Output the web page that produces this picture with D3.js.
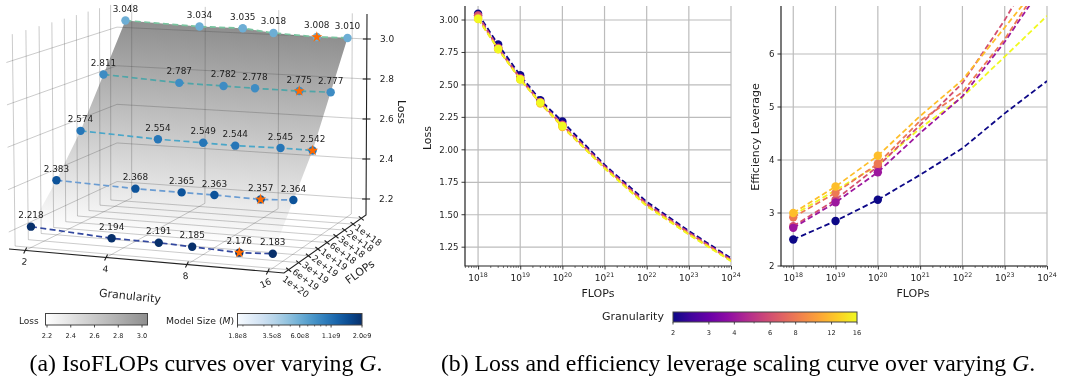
<!DOCTYPE html>
<html><head><meta charset="utf-8">
<script src="https://cdn.jsdelivr.net/npm/d3@7"></script>
<style>
html,body{margin:0;padding:0;background:#fff}
svg{display:block;filter:blur(0.3px)}
text{font-family:"DejaVu Sans",sans-serif;fill:#1c1c1c}
.cap{font-family:"Liberation Serif",serif;font-size:23.8px;fill:#000}
</style></head><body>
<script>
// ---------- data ----------
const granularity = [2, 4, 6, 8, 12, 16];
const flopsLabels = ["1e+18","2e+18","3e+18","6e+18","1e+19","2e+19","3e+19","6e+19","1e+20"];
const rowFlops = ["1e+18","3e+18","1e+19","3e+19","1e+20"];
const lossRow1 = [3.048,3.034,3.035,3.018,3.008,3.010];
const lossRow2 = [2.811,2.787,2.782,2.778,2.775,2.777];
const lossRow3 = [2.574,2.554,2.549,2.544,2.545,2.542];
const lossRow4 = [2.383,2.368,2.365,2.363,2.357,2.364];
const lossRow5 = [2.218,2.194,2.191,2.185,2.176,2.183];
const modelSizes = [6e8, 8.5e8, 1.05e9, 1.45e9, 2e9];
const lossTicks = [2.2,2.4,2.6,2.8,3.0];
const gTicks3d = [2,4,8,16];

const flopsExp = [18, 18.477, 19, 19.477, 20, 21, 22, 23, 24];
const tailG2  = [1.885,1.600,1.375,1.165];
const tailG4  = [1.875,1.585,1.365,1.155];
const tailG6  = [1.870,1.580,1.360,1.150];
const tailG8  = [1.865,1.575,1.355,1.148];
const tailG12 = [1.860,1.570,1.350,1.145];
const tailG16 = [1.858,1.566,1.346,1.142];

const levExp = [18, 19, 20, 21, 22, 23, 24];
const levG2  = [2.50,2.85,3.25,3.72,4.22,4.88,5.49];
const levG4  = [2.72,3.20,3.77,4.51,5.20,6.23,7.40];
const levG6  = [2.75,3.25,3.88,4.66,5.45,6.64,8.00];
const levG8  = [2.92,3.38,3.93,4.74,5.28,6.28,7.50];
const levG12 = [3.00,3.50,4.08,4.83,5.51,6.50,7.50];
const levG16 = [2.96,3.43,3.90,4.60,5.19,5.95,6.72];
const levDrawOrder = [16,6,4,8,12,2];

const lossCbTicks = [2.2,2.4,2.6,2.8,3.0];
const sizeCbTicks = [1.8e8,3.5e8,6e8,1.1e9,2e9];
const sizeCbLabels = ["1.8e8","3.5e8","6.0e8","1.1e9","2.0e9"];
const sizeCbMinor = [2e8,3e8,4e8,5e8,7e8,8e8,9e8,1e9];
const gCbTicks = [2,3,4,6,8,12,16];
const gCbMinor = [5,7,9,10,14];

const lossRows = [lossRow1,lossRow2,lossRow3,lossRow4,lossRow5];
const tails = [tailG2,tailG4,tailG6,tailG8,tailG12,tailG16];
const levs = [levG2,levG4,levG6,levG8,levG12,levG16];

// ---------- page ----------
const svg = d3.select("body").append("svg").attr("width",1067).attr("height",381);
const defs = svg.append("defs");
const FONT_TXT = 8.9, FONT_TITLE = 11;

// ---------- 3D box: scales to unit cube, then trilinear projection ----------
const sU = d3.scaleLog().base(2).domain([Math.pow(2,0.8),Math.pow(2,4.2)]).range([0,1]);
const sVraw = d3.scalePoint().domain(flopsLabels).range([0.065,0.95]);
const sV = f=>{const b=sVraw(f);return b/(b+(1-b)*1.14);};
const sW = d3.scaleLinear().domain([2.12,3.125]).range([0,1]);
const boxBottom = {D:[117,197],C:[366,215],A:[9,249],B:[284,273]};
const boxTop    = {D:[117,3],C:[367,14],A:[6,36],B:[288,38]};
function unit(a,b,c){
  const mix=(p,q,t)=>[p[0]+(q[0]-p[0])*t,p[1]+(q[1]-p[1])*t];
  const f=o=>mix(mix(o.D,o.C,a),mix(o.A,o.B,a),b);
  return mix(f(boxBottom),f(boxTop),c);
}
const proj=(g,fl,w)=>unit(sU(g),sV(fl),sW(w));
const line3=d3.line();

const g3=svg.append("g");

// surface
const n0=proj(2,rowFlops[0],lossRow1[0]), n1=proj(16,rowFlops[0],lossRow1[5]);
const nl=Math.hypot(n1[0]-n0[0],n1[1]-n0[1]);
const nrm=[-(n1[1]-n0[1])/nl,(n1[0]-n0[0])/nl];
const greyOf=d3.scaleLinear().domain([2.2,3.05]).range(["#ffffff","#8f8f8f"]);
const gradLen=215;
const surf=defs.append("linearGradient").attr("id","surf").attr("gradientUnits","userSpaceOnUse")
  .attr("x1",n0[0]).attr("y1",n0[1])
  .attr("x2",n0[0]+nrm[0]*gradLen).attr("y2",n0[1]+nrm[1]*gradLen);
d3.range(0,1.001,0.25).forEach(t=>{
  surf.append("stop").attr("offset",t).attr("stop-color",greyOf(3.05-(3.05-2.2)*t));
});
const outline=[...granularity.map((g,i)=>proj(g,rowFlops[0],lossRow1[i])),
  ...rowFlops.slice(1).map((f,r)=>proj(16,f,lossRows[r+1][5])),
  ...granularity.slice(0,5).reverse().map((g)=>proj(g,rowFlops[4],lossRow5[granularity.indexOf(g)])),
  ...rowFlops.slice(1,4).reverse().map(f=>proj(2,f,lossRows[rowFlops.indexOf(f)][0]))];
g3.append("path").attr("d",line3(outline)+"Z").attr("fill","url(#surf)");

// grid
const gridStyle=s=>s.attr("fill","none").attr("stroke","rgba(70,70,70,0.28)").attr("stroke-width",1);
const seg=(p,q)=>g3.append("path").attr("d",line3([p,q])).call(gridStyle);
lossTicks.forEach(w=>{
  const c=sW(w);
  seg(unit(0,0,c),unit(1,0,c)); seg(unit(0,0,c),unit(0,1,c));
});
gTicks3d.forEach(g=>{
  const a=sU(g);
  seg(unit(a,0,0),unit(a,0,1)); seg(unit(a,0,0),unit(a,1,0));
});
flopsLabels.forEach(f=>{
  const b=sV(f);
  seg(unit(0,b,0),unit(0,b,1)); seg(unit(0,b,0),unit(1,b,0));
});

// axes
const axStyle=s=>s.attr("fill","none").attr("stroke","#222").attr("stroke-width",1.1);
g3.append("path").attr("d",line3([unit(0,1,0),unit(1,1,0),unit(1,0,0),unit(1,0,1)])).call(axStyle);
lossTicks.forEach(w=>{
  const p=unit(1,0,sW(w));
  g3.append("path").attr("d",line3([[p[0]-4,p[1]],[p[0]+4,p[1]]])).call(axStyle);
  g3.append("text").attr("x",p[0]+13).attr("y",p[1]+3.2).attr("font-size",9).text(w.toFixed(1));
});
const gLabelRot=d3.scaleLinear().domain([1,2,3,4]).range([6,6,-5,-25]);
gTicks3d.forEach(g=>{
  const p=unit(sU(g),1,0);
  g3.append("path").attr("d",line3([[p[0]+1.5,p[1]-3],[p[0]-1.5,p[1]+3]])).call(axStyle);
  g3.append("text").attr("text-anchor","middle").attr("font-size",9)
    .attr("transform",`translate(${p[0]-1},${p[1]+14.5}) rotate(${gLabelRot(Math.log2(g))})`).text(g);
});
flopsLabels.forEach(f=>{
  const p=unit(1,sV(f),0);
  g3.append("path").attr("d",line3([[p[0]-2.5,p[1]-2],[p[0]+2.5,p[1]+2]])).call(axStyle);
  g3.append("text").attr("text-anchor","middle").attr("font-size",9)
    .attr("transform",`translate(${p[0]+7},${p[1]+17}) rotate(36)`).attr("dy","0.33em").text(f);
});
g3.append("text").attr("text-anchor","middle").attr("font-size",FONT_TITLE)
  .attr("transform","translate(130,296) rotate(6)").attr("dy","0.33em").text("Granularity");
g3.append("text").attr("text-anchor","middle").attr("font-size",FONT_TITLE)
  .attr("transform","translate(360,272) rotate(-36)").attr("dy","0.33em").text("FLOPs");
g3.append("text").attr("text-anchor","middle").attr("font-size",FONT_TITLE)
  .attr("transform","translate(402,112) rotate(90)").attr("dy","0.33em").text("Loss");

// series
const sizeNorm=d3.scaleLog().domain([1.8e8,2e9]).range([0,1]);
const sizeColor=v=>d3.interpolateBlues(sizeNorm(v));
const rowLineColors=["#79c49f","#4fa5a8","#4aa6c8","#6a9cd2","#33489f"];
const star=d3.symbol().type(d3.symbolStar).size(38);
lossRows.forEach((vals,r)=>{
  const pts=granularity.map((g,i)=>proj(g,rowFlops[r],vals[i]));
  g3.append("path").attr("d",line3(pts)).attr("fill","none").attr("stroke",rowLineColors[r])
    .attr("stroke-width",1.7).attr("stroke-dasharray","6 3.4");
  g3.selectAll(null).data(pts).join("circle")
    .attr("cx",d=>d[0]).attr("cy",d=>d[1]).attr("r",4.2)
    .attr("fill",sizeColor(modelSizes[r]));
  const bi=d3.minIndex(vals);
  g3.append("path").attr("d",star).attr("fill","#ff6a00")
    .attr("transform",`translate(${pts[bi][0]},${pts[bi][1]})`);
  g3.selectAll(null).data(pts).join("text")
    .attr("x",d=>d[0]).attr("y",d=>d[1]-8.5).attr("text-anchor","middle").attr("font-size",FONT_TXT)
    .text((d,i)=>vals[i].toFixed(3));
});

// ---------- colour bars ----------
function colorbar(id,x0,x1,y0,y1,color,scale,ticks,labels,minor,fs){
  const gr=defs.append("linearGradient").attr("id",id);
  d3.range(0,1.0001,0.1).forEach(t=>gr.append("stop").attr("offset",t).attr("stop-color",color(t)));
  const g=svg.append("g");
  g.append("rect").attr("x",x0).attr("y",y0).attr("width",x1-x0).attr("height",y1-y0)
    .attr("fill",`url(#${id})`).attr("stroke","#444").attr("stroke-width",1);
  ticks.forEach((t,i)=>{
    const x=scale(t);
    g.append("line").attr("x1",x).attr("x2",x).attr("y1",y1).attr("y2",y1+2.5).attr("stroke","#222").attr("stroke-width",.8);
    g.append("text").attr("x",x).attr("y",y1+12.5).attr("text-anchor","middle").attr("font-size",fs).text(labels[i]);
  });
  minor.forEach(t=>{
    const x=scale(t);
    g.append("line").attr("x1",x).attr("x2",x).attr("y1",y1).attr("y2",y1+1.5).attr("stroke","#222").attr("stroke-width",.6);
  });
}
const lossCbScale=d3.scaleLinear().domain([2.2,3.0]).range([47,142]);
colorbar("cbLoss",45.5,147.5,313.5,325,d3.interpolateRgb("#ffffff","#8f8f8f"),lossCbScale,lossCbTicks,lossCbTicks.map(d=>d.toFixed(1)),[],6.6);
const sizeCbScale=d3.scaleLog().domain([1.8e8,2e9]).range([237.5,362]);
colorbar("cbSize",237.5,362,313.5,325,d3.interpolateBlues,sizeCbScale,sizeCbTicks,sizeCbLabels,sizeCbMinor,6.6);
const gCbScale=d3.scaleLog().base(2).domain([2,16]).range([0,1]);
const gCbPx=d3.scaleLog().base(2).domain([2,16]).range([673,857]);
colorbar("cbG",673,857,312,322,d3.interpolatePlasma,gCbPx,gCbTicks,gCbTicks.map(String),gCbMinor,6.6);
svg.append("text").attr("x",19).attr("y",324).attr("font-size",9).text("Loss");
const ms=svg.append("text").attr("x",166).attr("y",324).attr("font-size",9.3);
ms.append("tspan").text("Model Size (");
ms.append("tspan").attr("font-style","italic").text("M");
ms.append("tspan").text(")");
svg.append("text").attr("x",602).attr("y",319.5).attr("font-size",FONT_TITLE).text("Granularity");

// ---------- 2D charts ----------
const gColor=g=>d3.interpolatePlasma(gCbScale(g));
function logXAxis(g,x,yBase){
  const ax=d3.axisBottom(x).tickValues(d3.range(18,25).map(e=>Math.pow(10,e))).tickFormat("").tickSize(3.5);
  const a=g.append("g").attr("transform",`translate(0,${yBase})`).call(ax);
  a.select(".domain").remove();
  a.selectAll("line").attr("stroke","#222").attr("stroke-width",.9);
  d3.range(18,25).forEach(e=>{
    const t=g.append("text").attr("x",x(Math.pow(10,e))).attr("y",yBase+14.5).attr("text-anchor","middle").attr("font-size",9);
    t.append("tspan").text("10");
    t.append("tspan").attr("font-size",6.3).attr("dy",-3.4).text(e);
  });
  const minor=[];
  d3.range(17,24).forEach(e=>d3.range(2,10).forEach(m=>{const v=m*Math.pow(10,e); if(v>=x.domain()[0]&&v<=x.domain()[1])minor.push(v);}));
  g.selectAll(null).data(minor).join("line").attr("x1",d=>x(d)).attr("x2",d=>x(d))
    .attr("y1",yBase).attr("y2",yBase+2).attr("stroke","#222").attr("stroke-width",.6);
}
function chart2d(xr,yDomain,yr,yTicks,yFmt,yTitle,yTitleX,xTitleX,yTitleY){
  const g=svg.append("g");
  const x=d3.scaleLog().domain(xr.domain).range(xr.range);
  const y=d3.scaleLinear().domain(yDomain).range(yr);
  const grid=s=>s.attr("stroke","#bcbcbc").attr("stroke-width",1.2);
  d3.range(18,25).forEach(e=>g.append("line").attr("x1",x(Math.pow(10,e))).attr("x2",x(Math.pow(10,e))).attr("y1",yr[0]).attr("y2",yr[1]).call(grid));
  yTicks.forEach(t=>g.append("line").attr("x1",xr.range[0]).attr("x2",xr.range[1]).attr("y1",y(t)).attr("y2",y(t)).call(grid));
  const content=g.append("g");
  g.append("path").attr("d",line3([[xr.range[0],yr[1]],[xr.range[0],yr[0]],[xr.range[1],yr[0]]])).attr("fill","none").attr("stroke","#222").attr("stroke-width",1.2);
  yTicks.forEach(t=>{
    g.append("line").attr("x1",xr.range[0]-3.5).attr("x2",xr.range[0]).attr("y1",y(t)).attr("y2",y(t)).attr("stroke","#222").attr("stroke-width",.9);
    g.append("text").attr("x",xr.range[0]-6.5).attr("y",y(t)+3).attr("text-anchor","end").attr("font-size",8.6).text(yFmt(t));
  });
  logXAxis(g,x,yr[0]);
  g.append("text").attr("x",xTitleX).attr("y",yr[0]+31).attr("text-anchor","middle").attr("font-size",FONT_TITLE).text("FLOPs");
  g.append("text").attr("text-anchor","middle").attr("font-size",FONT_TITLE)
    .attr("transform",`translate(${yTitleX},${yTitleY}) rotate(-90)`).attr("dy","0.33em").text(yTitle);
  return {x,y,content};
}
defs.append("clipPath").attr("id","clipL").append("rect").attr("x",465).attr("y",6).attr("width",266).attr("height",262);
defs.append("clipPath").attr("id","clipR").append("rect").attr("x",781).attr("y",6).attr("width",266).attr("height",262);

// Loss chart
const L=chart2d({domain:[Math.pow(10,17.69),1e24],range:[465,731]},[1.105,3.108],[266,6],
  [1.25,1.5,1.75,2,2.25,2.5,2.75,3],d=>d.toFixed(2),"Loss",427,598,138);
L.content.attr("clip-path","url(#clipL)");
const lineL=d3.line().x(d=>L.x(Math.pow(10,d[0]))).y(d=>L.y(d[1]));
granularity.forEach((g,i)=>{
  const vals=[...lossRows.map(r=>r[i]),...tails[i]];
  const pts=vals.map((v,k)=>[flopsExp[k],v]);
  L.content.append("path").attr("d",lineL(pts)).attr("fill","none").attr("stroke",gColor(g))
    .attr("stroke-width",1.8).attr("stroke-dasharray","5.5 3");
  L.content.selectAll(null).data(pts.slice(0,5)).join("circle")
    .attr("cx",d=>L.x(Math.pow(10,d[0]))).attr("cy",d=>L.y(d[1])).attr("r",4.2).attr("fill",gColor(g));
});

// Leverage chart
const R=chart2d({domain:[Math.pow(10,17.71),1e24],range:[781,1047]},[2,6.906],[266,6],
  [2,3,4,5,6],d=>String(d),"Efficiency Leverage",755,913,137);
R.content.attr("clip-path","url(#clipR)");
const lineR=d3.line().x(d=>R.x(Math.pow(10,d[0]))).y(d=>R.y(d[1]));
levDrawOrder.forEach(g=>{
  const i=granularity.indexOf(g);
  const pts=levs[i].map((v,k)=>[levExp[k],v]);
  R.content.append("path").attr("d",lineR(pts)).attr("fill","none").attr("stroke",gColor(g))
    .attr("stroke-width",1.8).attr("stroke-dasharray","5.5 3");
  if(g!==16) R.content.selectAll(null).data(pts.slice(0,3)).join("circle")
    .attr("cx",d=>R.x(Math.pow(10,d[0]))).attr("cy",d=>R.y(d[1])).attr("r",4.2).attr("fill",gColor(g));
});

// ---------- captions ----------
function caption(x,before,after){
  const t=svg.append("text").attr("class","cap").attr("x",x).attr("y",371).attr("text-anchor","middle");
  t.append("tspan").text(before);
  t.append("tspan").attr("font-style","italic").text("G");
  t.append("tspan").text(after);
}
caption(206,"(a) IsoFLOPs curves over varying ",".");
caption(738,"(b) Loss and efficiency leverage scaling curve over varying ",".");
</script>
</body></html>
